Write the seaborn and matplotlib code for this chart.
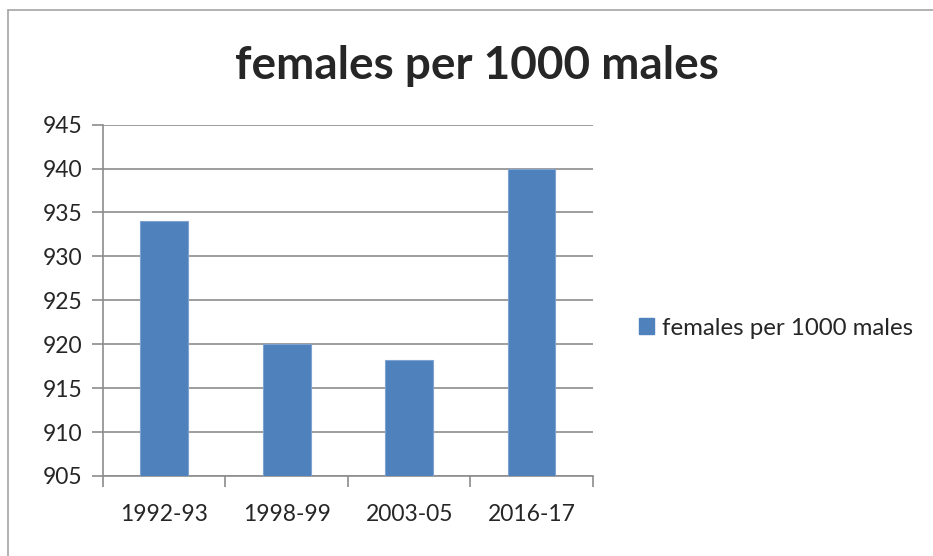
import matplotlib
matplotlib.use("Agg")
import matplotlib.pyplot as plt
import seaborn as sns
import pandas as pd
from matplotlib.lines import Line2D
from matplotlib.patches import Patch

periods = ["1992-93", "1998-99", "2003-05", "2016-17"]
ratio = [934, 920, 918.2, 940]
series_name = "females per 1000 males"
yticks = [905, 910, 915, 920, 925, 930, 935, 940, 945]

df = pd.DataFrame({"period": periods, "ratio": ratio})

sns.set_style("white")
plt.rcParams["font.family"] = ["Lato", "DejaVu Sans"]

bar_color = "#4F81BD"
grid_color = "#8C8C8C"

fig = plt.figure(figsize=(9.33, 5.56), dpi=100)
ax = fig.add_axes([0.1104, 0.1439, 0.525, 0.632])

sns.barplot(data=df, x="period", y="ratio", color=bar_color, width=0.39,
            saturation=1, ax=ax, zorder=3, edgecolor="#7FA3D1", linewidth=0.8)

ax.set_ylim(905, 945)
ax.set_yticks(yticks)
ax.set_xlim(-0.5, 3.5)
ax.set_xlabel("")
ax.set_ylabel("")
ax.yaxis.grid(True, color=grid_color, linewidth=1.2, zorder=0)
ax.set_axisbelow(True)

for s in ["top", "right"]:
    ax.spines[s].set_visible(False)
for s in ["left", "bottom"]:
    ax.spines[s].set_color(grid_color)
    ax.spines[s].set_linewidth(1.2)

# category boundary ticks like Excel
ax.set_xticks([-0.5, 0.5, 1.5, 2.5, 3.5], minor=True)
ax.tick_params(axis="x", which="minor", length=8, color=grid_color, width=1.2)
ax.tick_params(axis="x", which="major", length=0, pad=20, labelsize=16.5)
ax.tick_params(axis="y", length=8, color=grid_color, width=1.2, pad=7, labelsize=16.5)
ax.tick_params(left=True, bottom=True, which="both")

fig.text(0.511, 0.882, series_name, ha="center", va="center",
         fontsize=33, fontweight="bold")

fig.legend(handles=[Patch(color=bar_color, label=series_name)],
           loc="center left", bbox_to_anchor=(0.662, 0.41), frameon=False,
           fontsize=17.3, handlelength=0.6, handleheight=0.6, handletextpad=0.35)

# chart-area border
fig.add_artist(Line2D([0.0086, 0.0086], [0.0, 0.982], color="#A6A6A6", lw=1.2))
fig.add_artist(Line2D([0.0086, 1.0], [0.982, 0.982], color="#A6A6A6", lw=1.2))

fig.savefig("out.png", dpi=100)
